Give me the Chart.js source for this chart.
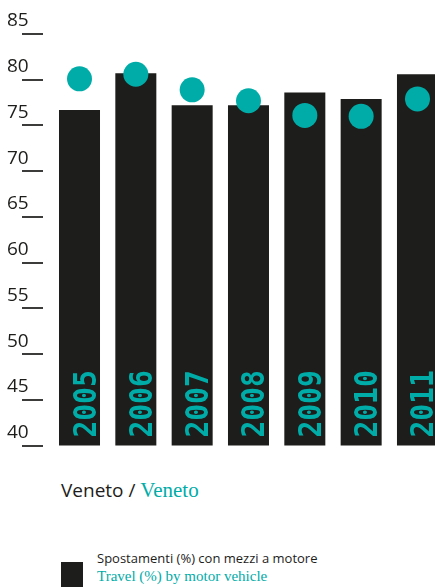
<!DOCTYPE html>
<html>
<head>
<meta charset="utf-8">
<script src="https://cdn.jsdelivr.net/npm/chart.js@4"></script>
<style>
  body { margin: 0; width: 435px; height: 587px; overflow: hidden; background: #fff; position: relative; }
  #wrap { position: absolute; left: 0; top: 0; width: 435px; height: 460px; }
  #title { position: absolute; left: 61px; top: 481px; font: 19px/19px "Open Sans"; color: #1d1d1b; white-space: nowrap; }
  #title .en { font: 21px/19px "Liberation Serif"; color: #00aca8; }
  #swatch { position: absolute; left: 61px; top: 562px; width: 22px; height: 30px; background: #1d1d1b; }
  #leg1 { position: absolute; left: 97px; top: 552px; font: 13px/13px "Open Sans"; color: #1d1d1b; white-space: nowrap; }
  #leg2 { position: absolute; left: 97px; top: 569px; font: 15px/15px "Liberation Serif"; color: #00aca8; white-space: nowrap; }
</style>
</head>
<body>
<div id="wrap"><canvas id="chart"></canvas></div>
<div id="title">Veneto / <span class="en">Veneto</span></div>
<div id="swatch"></div>
<div id="leg1">Spostamenti (%) con mezzi a motore</div>
<div id="leg2">Travel (%) by motor vehicle</div>
<script>
const years = [2005, 2006, 2007, 2008, 2009, 2010, 2011]
const motorTravel = [76.7, 80.7, 77.2, 77.2, 78.6, 77.9, 80.6] // bars
const dots = [80.1, 80.6, 78.9, 77.7, 76.1, 76.0, 77.9]       // teal circles
const yTicks = [40, 45, 50, 55, 60, 65, 70, 75, 80, 85]

const teal = '#00aca8'
const dark = '#1d1d1b'

// year written upwards inside each bar
const yearLabels = {
  id: 'yearLabels',
  afterDatasetsDraw(chart) {
    const ctx = chart.ctx
    const x = chart.scales.x
    const bottom = chart.chartArea.bottom
    ctx.save()
    ctx.fillStyle = teal
    ctx.font = 'bold 28px "DejaVu Sans Mono"'
    ctx.textAlign = 'left'
    ctx.textBaseline = 'alphabetic'
    years.forEach(yr => {
      ctx.save()
      ctx.translate(x.getPixelForValue(yr) + 16, bottom - 8)
      ctx.rotate(-Math.PI / 2)
      ctx.scale(1, 1.12)
      ctx.fillText(String(yr), 0, 0)
      ctx.restore()
    })
    ctx.restore()
  }
}

new Chart(document.getElementById('chart'), {
  type: 'bar',
  data: {
    labels: years,
    datasets: [
      {
        type: 'line',
        label: 'dots',
        data: dots,
        showLine: false,
        pointRadius: 12.5,
        pointHoverRadius: 12.5,
        pointBorderWidth: 0,
        pointBackgroundColor: teal,
        clip: false,
        order: 0
      },
      {
        label: 'Spostamenti (%) con mezzi a motore',
        data: motorTravel,
        backgroundColor: dark,
        barPercentage: 0.728,
        categoryPercentage: 1,
        order: 1
      }
    ]
  },
  options: {
    responsive: true,
    maintainAspectRatio: false,
    animation: false,
    layout: { autoPadding: false, padding: { left: 7, top: 34, right: 0, bottom: 7 } },
    plugins: { legend: { display: false }, tooltip: { enabled: false } },
    scales: {
      x: {
        type: 'linear',
        display: false,
        offset: false,
        grid: { offset: false },
        min: 2004.352,
        max: 2011.311,
        afterBuildTicks: s => { s.ticks = years.map(v => ({ value: v })) }
      },
      y: {
        min: 40,
        max: 85,
        afterBuildTicks: s => { s.ticks = yTicks.map(v => ({ value: v })) },
        afterFit: s => { s.width = 36 },
        border: { display: false },
        grid: { drawOnChartArea: false, tickLength: 21, color: '#3c3c3b', lineWidth: 2 },
        ticks: {
          crossAlign: 'far',
          labelOffset: -13,
          color: dark,
          font: { family: 'Open Sans', size: 19 }
        }
      }
    }
  },
  plugins: [yearLabels]
})
</script>
</body>
</html>
